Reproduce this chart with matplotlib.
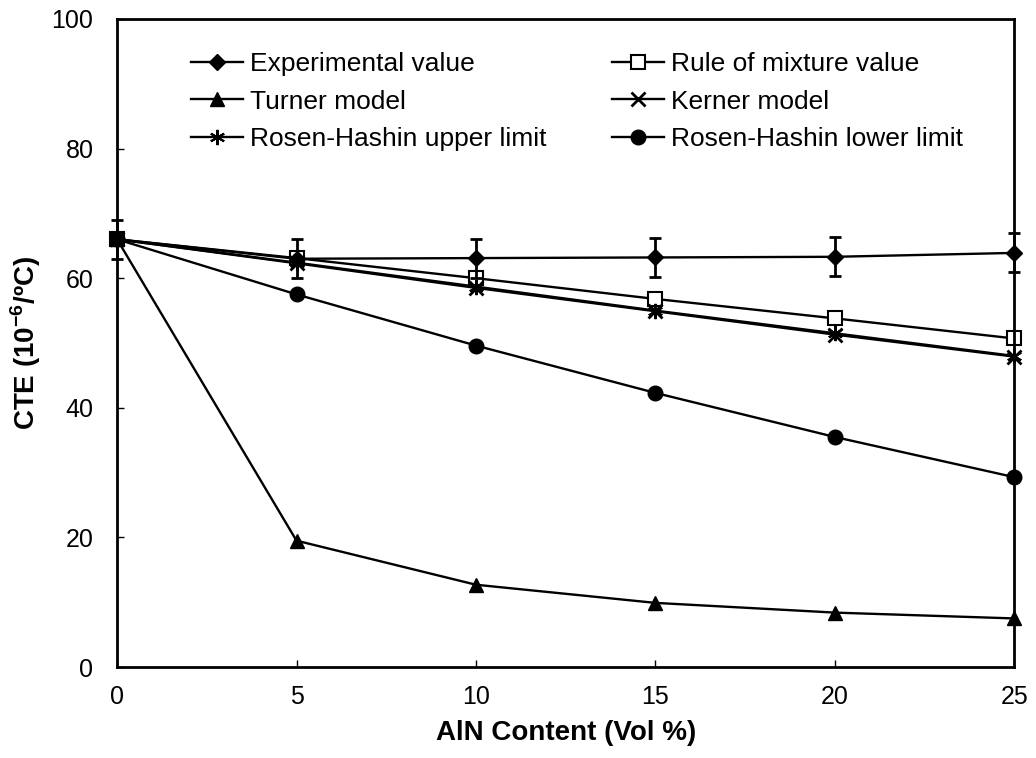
import numpy as np
import matplotlib.pyplot as plt

plt.rcParams['font.family'] = ['Liberation Sans', 'DejaVu Sans']
plt.rcParams['mathtext.fontset'] = 'custom'
plt.rcParams['mathtext.rm'] = 'Liberation Sans:bold'
plt.rcParams['mathtext.bf'] = 'Liberation Sans:bold'

# AlN content (vol %)
x = [0, 5, 10, 15, 20, 25]

experimental = [66.0, 63.0, 63.1, 63.2, 63.3, 63.9]
exp_err = [3.0, 3.0, 3.0, 3.0, 3.0, 3.0]
rule_mix = [66.0, 63.1, 60.0, 56.8, 53.8, 50.7]
turner = [66.0, 19.5, 12.7, 9.9, 8.4, 7.5]
kerner = [66.0, 62.3, 58.5, 54.9, 51.3, 47.9]
rh_upper = [66.0, 62.4, 58.7, 55.0, 51.5, 48.0]
rh_lower = [66.0, 57.5, 49.6, 42.3, 35.5, 29.3]

fig = plt.figure(figsize=(10.36, 7.58), dpi=100)
ax = fig.add_axes([0.113, 0.12, 0.866, 0.855])

lw = 1.7
eb = ax.errorbar(x, experimental, yerr=exp_err, color="black", lw=lw, marker="D",
                 ms=8, capsize=4.5, capthick=2, elinewidth=2, clip_on=False, zorder=5)
h1 = eb[0]
h1.set_label("Experimental value")
h2, = ax.plot(x, rule_mix, color="black", lw=lw, marker="s", ms=9.5, mfc="white",
              mew=1.5, clip_on=False, label="Rule of mixture value")
h3, = ax.plot(x, turner, color="black", lw=lw, marker="^", ms=10,
              clip_on=False, label="Turner model")
h4, = ax.plot(x, kerner, color="black", lw=lw, marker="x", ms=10, mew=2,
              clip_on=False, label="Kerner model")
h5, = ax.plot(x, rh_upper, color="black", lw=lw, marker=(6, 2, 0), ms=11, mew=1.5,
              clip_on=False, label="Rosen-Hashin upper limit")
h6, = ax.plot(x, rh_lower, color="black", lw=lw, marker="o", ms=10.5,
              clip_on=False, label="Rosen-Hashin lower limit")

ax.set_xlim(0, 25)
ax.set_ylim(0, 100)
ax.set_xticks([0, 5, 10, 15, 20, 25])
ax.set_yticks([0, 20, 40, 60, 80, 100])
ax.tick_params(direction="in", length=5, width=1, labelsize=18,
               top=False, right=False)
ax.tick_params(axis="x", pad=13)
ax.tick_params(axis="y", pad=17)
for s in ax.spines.values():
    s.set_linewidth(2)

ax.set_xlabel("AlN Content (Vol %)", fontsize=20, fontweight="bold", labelpad=8)
ax.set_ylabel("CTE (10$^{-6}$/ºC)", fontsize=20, fontweight="bold", labelpad=6)

ax.legend(handles=[h1, h3, h5, h2, h4, h6], ncol=2, frameon=False, fontsize=19,
          loc="upper left", bbox_to_anchor=(0.056, 0.985), handlelength=1.97,
          handletextpad=0.27, columnspacing=2.46, labelspacing=0.5)

plt.savefig("out.png", dpi=100)
